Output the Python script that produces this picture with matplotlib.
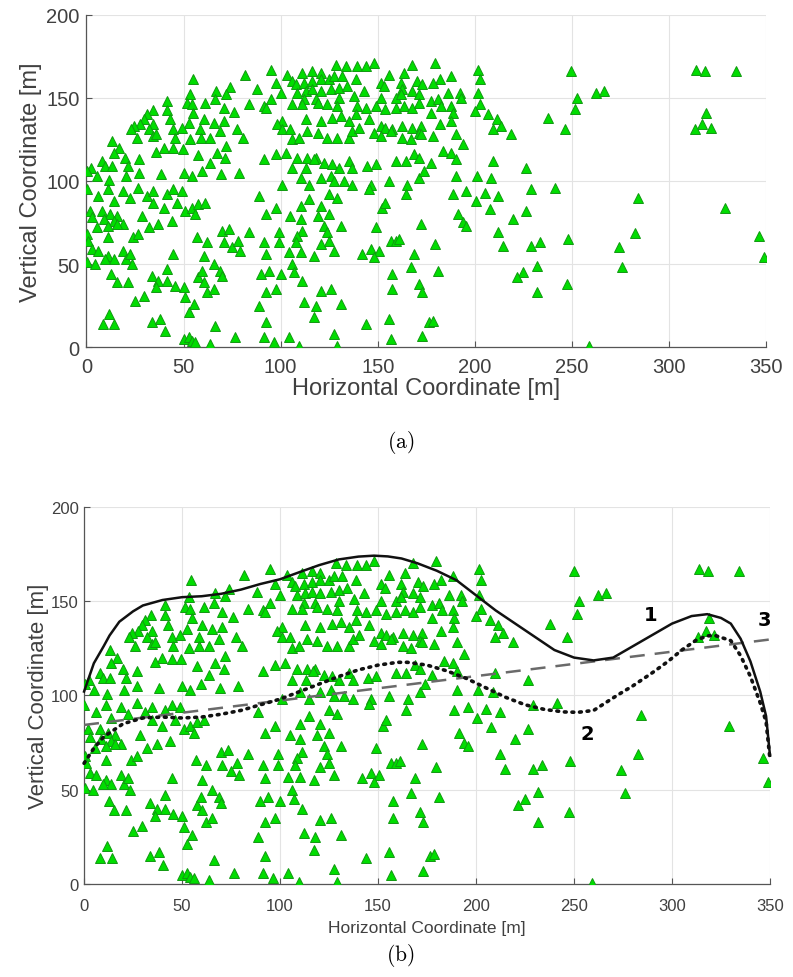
import matplotlib
matplotlib.use("Agg")
from matplotlib import pyplot as plt
import numpy as np

obs_x = [
    54.8, 81.8, 74, 66.8, 72, 53.4, 41.4, 51.7, 54.3, 61.2, 66.3, 70.6, 76, 83.5, 34.2, 31, 41.4, 43, 55, 60.3,
    65.5, 70.6, 52.6, 29.4, 27.7, 34.5, 24.5, 22.8, 32, 44.8, 49, 58.4, 68.7, 77.5, 26, 34.5, 36, 45.6, 53.4, 58.9,
    63.6, 80.4, 13.2, 16.6, 14, 39.7, 44.8, 49.7, 36, 57.7, 67, 72, 71.5, 7.9, 2.6, 0.5, 9.6, 13.2, 20, 21.6,
    27, 63.6, 20.6, 27, 38.2, 50, 54.3, 59.5, 69.2, 78.6, 5.3, 11.7,
    0.2, 6.2, 11.3, 14, 19, 22.5, 26.8, 31, 34.5, 34.5, 41.4, 44.8, 49, 46.6, 39.7, 43.9, 50.9, 54.3, 57.7, 61.2,
    56, 1.9, 7.9, 12.2, 15.6, 2.8, 8.8, 14, 19, 5.4, 11.3, 15.6, 28.5, 32, 37, 0.5, 1, 2.8, 11.3, 24.2,
    26.8, 6.2, 11.3, 14, 19, 20.6, 22.3, 0.5, 4.5, 9.6, 23.4, 44.8, 56.9, 62, 60.3, 69.8, 73.2, 70.6, 75, 79,
    78, 83.5, 65.5, 69, 70, 12.9, 15.5, 21.6, 33.7, 37, 41.4, 36, 41.4, 45.6, 50, 50.9, 57.7, 59.5, 60.3, 62,
    65.5, 29.4, 25, 55.2, 52.6, 11.7, 8.3, 14.4, 33.7, 38, 40.5, 66.3, 76.6, 50, 52.6, 54.3, 56, 63.8,
    94.8, 103.4, 111, 116.3, 120.6, 128.4, 133.5, 139.5, 143.8, 148, 167.9, 155.8, 163.6, 97.4, 106, 107.7, 112, 116.3, 120.6, 125,
    127.5, 131.8, 138.7, 88, 100, 108.6, 112.9, 116.3, 120.6, 125.8, 130, 134.4, 143, 151.5, 153.3, 161.9, 162.7, 170.4, 173, 130,
    137.8, 118, 112, 94.8, 91.4, 151.5, 159.3, 161.9, 167.9, 171.3, 106, 111, 119, 124, 129.2, 92.3, 139.5, 143.8, 149, 154,
    159.3, 163.6, 167.9, 171.3, 100.9, 112.9, 120.6, 126.6, 131, 135.2, 138.7, 145.5, 151.5, 154, 157.6, 162.7, 167.9, 172.2, 171.3, 98.3,
    100.9, 105, 106, 109.5, 113.7, 119, 124, 129.2, 135.2, 137, 140.4, 148, 151.5, 156.7, 162.7, 167, 172.2, 91.4, 97.4, 102.6,
    108.6, 113.7, 118, 122.3, 126.6, 130, 106, 113, 117, 135.2, 137, 144.7, 149, 159.3, 164.5, 168.7, 171.3, 100.9, 110.3, 114.6,
    120.6, 125.8, 127.5, 132.6, 137, 146.4, 155.8, 165.3, 171.3, 173.9,
    145.5, 164.4, 88.8, 97.4, 92.3, 91.4, 92.3, 99.1, 99.1, 110.3, 114.6, 120.6, 125, 129.2, 125, 119, 105, 110.3, 122.3, 124,
    111, 108.6, 107.7, 120.6, 125, 131, 104.3, 110.3, 117.2, 127.5, 106, 106.9, 111, 100, 94, 89.7, 92.3, 97.4, 120.6, 125.8,
    131, 112, 118, 117.2, 142, 146.4, 150.7, 149, 148, 152.4, 154, 156.7, 159.3, 161, 168.7, 167, 172.2, 157.6, 157.6, 171.3,
    173, 88.8, 92.3, 91.4, 104.3, 96.6, 109.5, 127.5, 129.2, 143.8, 155.8, 156.7, 173, 176.5,
    179.4, 188, 182, 178.5, 201.7, 202.6, 201.7, 186.3, 192.3, 193, 177.7, 181, 182.8, 188, 189, 202.6, 200, 206.9, 211.2, 213.7,
    209.5, 218.9, 177.7, 182, 178.5, 188, 190.5, 194, 183.7, 188, 190.5, 177.7, 209.5, 190.5, 200.9, 208.6, 226.6, 237.8, 246.4, 249.8,
    252.4, 251.5,
    262.2, 266.5, 313.7, 318.6, 334.4, 318.9, 317.2, 313.4, 321.5,
    188.8, 195.7, 205.2, 212, 200.5, 229.2, 241.2, 191.4, 194, 195.7, 207.7, 219.8, 226.6, 212, 214.6, 179.4, 229.2, 233.5, 248, 181.1,
    231.8, 225, 221.5, 231.8, 247.3, 178.5, 259,
    284.2, 282.5, 274.2, 276, 328.9, 346.4, 349,
]
obs_y = [
    161, 164, 156.4, 154, 152.4, 152, 148, 147, 146, 147, 149, 144, 141.6, 146, 142.4, 140, 142.4, 137, 141, 137.5,
    135, 136, 135, 137, 134, 134, 133, 131, 131, 131, 132, 131, 130, 131, 126, 127, 128, 126, 125, 126,
    126, 126, 124, 120, 117, 120, 119.5, 119, 117.6, 115.5, 117, 121, 114, 112, 108, 106, 109, 109, 114, 109,
    113, 111, 103, 105, 104, 105, 103, 106, 104, 105, 103, 100.6,
    95, 91, 95, 88, 94, 90, 96, 91, 94, 87, 92, 95, 94, 87, 84, 76, 82, 84, 86, 87,
    80, 82, 82, 80, 79, 78, 77, 76, 74, 72, 73, 74, 79, 72, 74, 68, 64, 59, 66, 66,
    68, 58, 55, 53, 58, 53, 56, 51, 50, 53, 50, 56, 66, 63, 55, 70, 71, 63, 60, 58,
    64, 69, 50, 46, 43, 44, 39, 39, 43, 40, 40, 36, 47, 37, 36, 30, 42, 46, 39, 33,
    35, 31, 28, 26, 21, 20, 14, 14, 15, 17, 10, 13, 6, 5, 6, 4, 3, 2,
    167, 164, 165, 166, 165, 170, 169, 169, 169, 171, 170, 164, 165, 159, 160, 158, 159, 160, 161, 161,
    163, 163, 161, 155, 153, 153, 154, 155, 154, 155, 156, 157, 154, 159, 157, 159, 155, 160, 158, 150,
    151, 149, 149, 149, 145, 150, 150, 152, 154, 152, 146, 146, 147, 146, 145, 144, 145, 144, 145, 143,
    144, 145, 144, 147, 136, 137, 136, 138, 139, 136, 140, 137, 133, 132, 131, 133, 132, 133, 129, 134,
    131, 131, 125, 126, 130, 129, 126, 126, 126, 130, 132, 129, 127, 130, 126, 125, 128, 113, 116, 117,
    114, 114, 114, 111, 110, 108, 108, 108, 113, 112, 108, 109, 110, 112, 112, 116, 114, 97.8, 101.8, 97.8,
    101.8, 102.8, 99.8, 99.8, 97.8, 97.8, 99.8, 97.8, 101.8, 105.8,
    95.2, 92, 91, 84, 80, 63, 56, 69, 63, 85, 89, 85, 92, 90, 80, 79, 79, 77, 73, 69,
    70, 67, 63, 62, 64, 73, 57, 57, 55, 58, 50, 45, 40, 44, 46, 44, 33, 35, 34, 35,
    26, 27, 25, 18, 56, 59, 58, 72, 54, 84, 87, 64, 64, 65, 56, 48, 74, 44, 35, 38,
    33, 25, 15, 6, 6, 3, 1, 8, 1, 14, 17, 5, 7, 15,
    171, 163, 161, 159, 167, 161, 153, 153, 153, 150, 148, 149, 145, 145, 141, 146, 142, 140, 137, 133,
    131, 128, 141, 134, 127, 136, 128, 122, 118, 117, 113, 111, 112, 103, 103, 102, 108, 138, 131, 166,
    150, 143,
    153, 154, 167, 166, 166, 141, 134, 131, 132,
    92, 94, 93, 91, 88, 95, 96, 80, 75, 73, 83, 77, 82, 69, 61, 62, 61, 63, 65, 46,
    49, 45, 42, 33, 38, 16, 0.8,
    89.6, 68.7, 60.4, 48, 83.5, 66.7, 54,
]

# boundary curve 1 (solid)
c1_x = [0, 5, 10, 13, 18, 25, 30, 40, 50, 60, 70, 80, 90, 100, 110, 120, 130, 140, 148, 155,
        162, 170, 180, 190, 200, 210, 220, 230, 240, 250, 260, 270, 280, 290, 300, 310, 318, 325, 330, 335,
        340, 345, 348, 350]
c1_y = [102, 117, 126, 131.7, 139, 144.5, 147.6, 150.5, 152, 152.5, 153.8, 156, 159, 161.5, 165.3, 169, 172, 173.5, 174, 173.6,
        172.5, 170, 166, 161, 153, 145, 138, 131, 124, 120, 118.5, 120, 126, 132, 138, 142, 143, 141, 138, 130,
        118, 102, 89, 68]
# boundary curve 2 (dotted)
c2_x = [0, 5, 10, 20, 30, 40, 50, 60, 70, 80, 90, 100, 110, 120, 130, 140, 150, 160, 165, 175,
        185, 195, 205, 215, 225, 235, 245, 252, 260, 272, 280, 290, 298, 305, 312, 318, 322, 330, 335, 340,
        345, 348, 350]
c2_y = [64, 72, 78, 85, 88, 88.5, 88, 88.5, 90, 92, 95, 98, 102, 106, 110, 113.5, 116, 117.5, 117.5, 116,
        113, 109, 104, 99, 95, 92.5, 91.2, 91, 92, 100, 105, 112, 118, 124, 129, 131.5, 131.7, 129, 121, 110,
        96, 86, 66]
# line 3 (dashed)
c3_x = [0, 350]
c3_y = [84.3, 129.6]

tick_x = [0, 50, 100, 150, 200, 250, 300, 350]
tick_y = [0, 50, 100, 150, 200]

plt.rcParams['mathtext.fontset'] = 'cm'
txt = '#404040'


def setup(ax, tsize, xl, yl, xpad, ypad, xlpad, ylpad):
    ax.set_xlim(0, 350)
    ax.set_ylim(0, 200)
    ax.set_xticks(tick_x)
    ax.set_yticks(tick_y)
    ax.grid(True, color='#e3e3e3', lw=0.8)
    ax.set_axisbelow(True)
    for s in ['top', 'right']:
        ax.spines[s].set_visible(False)
    for s in ['left', 'bottom']:
        ax.spines[s].set_color('#555555')
        ax.spines[s].set_linewidth(0.9)
    ax.tick_params(direction='in', length=4, color='#555555', labelcolor=txt,
                   labelsize=tsize, top=False, right=False)
    ax.tick_params(axis='x', pad=xpad)
    ax.tick_params(axis='y', pad=ypad)
    for lab in ax.get_xticklabels() + ax.get_yticklabels():
        lab.set_fontfamily('Liberation Sans')
    ax.set_xlabel('Horizontal Coordinate [m]', fontsize=xl, color=txt,
                  family='Liberation Sans', labelpad=xlpad)
    ax.set_ylabel('Vertical Coordinate [m]', fontsize=yl, color=txt,
                  family='Liberation Sans', labelpad=ylpad)
    ax.plot(obs_x, obs_y, '^', ms=7, mfc='#00dd00', mec='#119911', mew=0.7,
            ls='none', zorder=3)


fig = plt.figure(figsize=(7.93, 9.78), dpi=100)
ax1 = fig.add_axes([0.109, 0.644, 0.857, 0.340])
ax2 = fig.add_axes([0.106, 0.095, 0.865, 0.386])

setup(ax1, 14.5, 17, 17, 7, 5, 1, 3)
setup(ax2, 12, 12.5, 16, 10, 4, 5, 1)

ax2.plot(c3_x, c3_y, color='#6a6a6a', lw=1.8, dashes=(6, 4), zorder=4)
ax2.plot(c1_x, c1_y, color='#111111', lw=1.8, zorder=5, clip_on=False)
ax2.plot(c2_x, c2_y, color='#111111', lw=2.6, ls=(0, (0.5, 1.6)),
         dash_capstyle='round', zorder=5, clip_on=False)

ax2.text(289, 143, '1', fontsize=14, fontweight='bold', ha='center', va='center', zorder=6)
ax2.text(257, 80, '2', fontsize=14, fontweight='bold', ha='center', va='center', zorder=6)
ax2.text(347, 140, '3', fontsize=14, fontweight='bold', ha='center', va='center', zorder=6)

fig.text(0.505, 1 - 443 / 978, r'$\mathrm{(a)}$', fontsize=15.5, ha='center', va='center')
fig.text(0.505, 1 - 956 / 978, r'$\mathrm{(b)}$', fontsize=15.5, ha='center', va='center')

fig.savefig('out.png', dpi=100)
